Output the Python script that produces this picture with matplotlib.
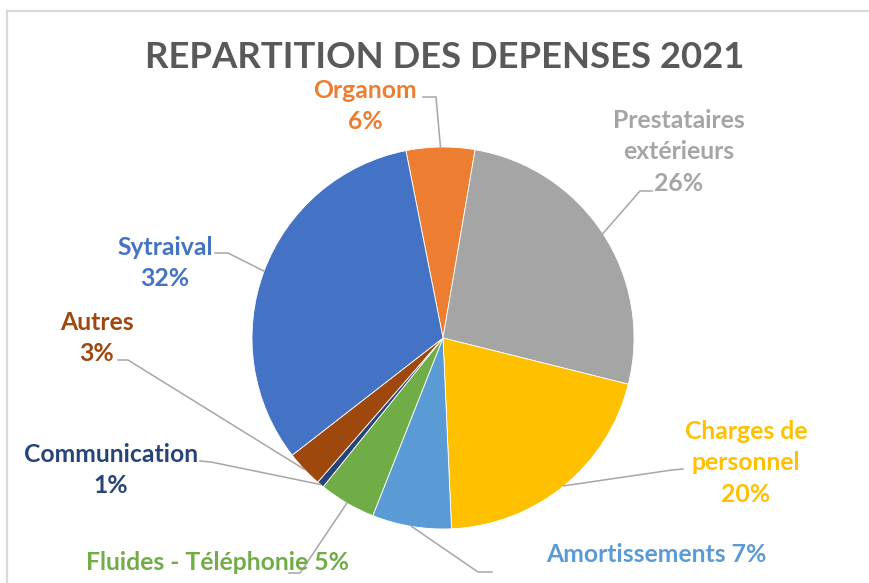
import matplotlib.pyplot as plt
import numpy as np
from matplotlib.patches import Rectangle

# Data (clockwise from top)
labels = ["Organom", "Prestataires\nextérieurs", "Charges de\npersonnel",
          "Amortissements", "Fluides - Téléphonie", "Communication",
          "Autres", "Sytraival"]
values = [5.8, 26.2, 20.4, 6.7, 4.8, 0.6, 3.1, 32.4]
colors = ["#ED7D31", "#A5A5A5", "#FFC000", "#5B9BD5", "#70AD47",
          "#264478", "#9E480E", "#4472C4"]

W, H = 870, 583
fig = plt.figure(figsize=(W / 100, H / 100), dpi=100)
ax = fig.add_axes([0, 0, 1, 1])

def py(y):
    # pixel row -> data y
    return H - y

cx, cy, r = 443, 338, 191
start = 101.2
wedges, _ = ax.pie(values, colors=colors, startangle=start, counterclock=False,
                   center=(cx, py(cy)), radius=r, frame=True,
                   wedgeprops=dict(edgecolor="white", linewidth=0.6))
ax.set_xlim(0, W)
ax.set_ylim(0, H)
ax.set_aspect("equal")
ax.axis("off")

# chart frame
ax.add_patch(Rectangle((7.5, -5), W, py(10.5) + 5, fill=False,
                       edgecolor="#D9D9D9", linewidth=1.6, clip_on=False))

ax.text(445, py(58), "REPARTITION DES DEPENSES 2021", ha="center", va="center",
        fontsize=26.3, fontweight="bold", color="#595959", family="Lato")

# label text positions and leader elbows (pixels)
text_pos = [(365, 106), (679, 152), (746, 463), (656, 555),
            (218, 562), (111, 470), (97, 338), (165, 263)]
single_line = [False, False, False, True, True, False, False, False]
elbow = [[(436, 97), (423, 97)], [(640, 191), (652, 191)],
         [(672, 470), (683, 469)], [(478, 572), (492, 572)],
         [(300, 573), (289, 573)], [(211, 462), (200, 461)],
         [(128, 360), (118, 360)], [(228, 253), (215, 253)]]

total = sum(values)
for w, lab, v, c, tp, one, el in zip(wedges, labels, values, colors,
                                     text_pos, single_line, elbow):
    mid = np.deg2rad((w.theta1 + w.theta2) / 2)
    ax0 = cx + r * np.cos(mid)
    ay0 = py(cy) + r * np.sin(mid)
    xs = [ax0] + [p[0] for p in el]
    ys = [ay0] + [py(p[1]) for p in el]
    ax.plot(xs, ys, color="#A6A6A6", linewidth=1.1, zorder=1)
    pct = "%.0f%%" % (100 * v / total)
    txt = lab + (" " if one else "\n") + pct
    ax.text(tp[0], py(tp[1]), txt, ha="center", va="center", color=c,
            fontsize=17.8, fontweight="bold", family="Lato", linespacing=1.47,
            zorder=3)

fig.savefig("out.png", dpi=100)
